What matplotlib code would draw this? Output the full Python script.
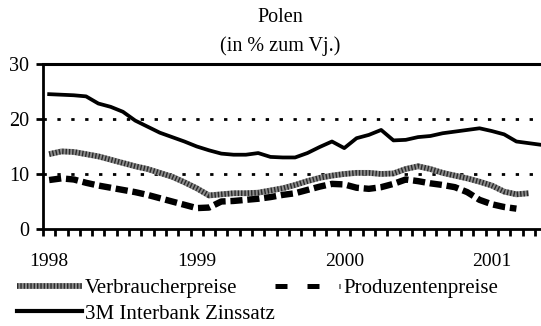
import matplotlib
matplotlib.use("Agg")
import matplotlib.pyplot as plt
from matplotlib.legend_handler import HandlerTuple
from matplotlib.lines import Line2D
from matplotlib.ticker import FixedLocator, NullFormatter

# monthly series from Jan 1998 (% y/y)
years = ["1998", "1999", "2000", "2001"]
verbraucher = [13.6, 14.1, 14.0, 13.6, 13.2, 12.6, 12.0, 11.4, 10.9, 10.2,
               9.5, 8.5, 7.4, 6.1, 6.3, 6.5, 6.5, 6.6, 7.0, 7.4,
               8.0, 8.7, 9.3, 9.7, 10.0, 10.2, 10.2, 10.0, 10.1, 10.9,
               11.4, 10.9, 10.2, 9.7, 9.2, 8.6, 7.9, 6.8, 6.3, 6.5]
produzenten = [8.9, 9.2, 9.0, 8.4, 7.9, 7.5, 7.1, 6.7, 6.2, 5.6,
               5.0, 4.4, 3.8, 3.9, 5.0, 5.1, 5.3, 5.5, 5.8, 6.2,
               6.5, 7.1, 7.7, 8.2, 8.1, 7.5, 7.3, 7.6, 8.2, 9.0,
               8.7, 8.3, 8.0, 7.6, 6.7, 5.3, 4.5, 4.0, 3.7]
zinssatz = [24.5, 24.4, 24.3, 24.1, 22.8, 22.2, 21.3, 19.7, 18.6, 17.5,
            16.7, 15.9, 15.0, 14.3, 13.7, 13.5, 13.5, 13.8, 13.1, 13.0,
            13.0, 13.8, 14.9, 15.9, 14.7, 16.5, 17.1, 18.0, 16.1, 16.2,
            16.7, 16.9, 17.4, 17.7, 18.0, 18.3, 17.8, 17.2, 15.9, 15.6,
            15.3]

plt.rcParams["font.family"] = ["Liberation Serif", "DejaVu Serif"]

fig = plt.figure(figsize=(5.41, 3.26), dpi=100)
ax = fig.add_axes([0.0795, 0.2975, 0.9205, 0.5065])

n = len(zinssatz)

# dotted grid at 10 and 20, solid line across the top at 30
for y in (10, 20):
    ax.axhline(y, color="black", lw=2.0, ls=(0, (1.2, 3.8)), zorder=1)
ax.axhline(30, color="black", lw=2.2, zorder=1, clip_on=False)

# textured consumer price line: grey band with dark hatching on top
cpi_bg, = ax.plot(range(len(verbraucher)), verbraucher, color="#8c8c8c",
                  lw=4.2, solid_capstyle="butt", zorder=3)
cpi_fg, = ax.plot(range(len(verbraucher)), verbraucher, color="#2a2a2a",
                  lw=4.0, ls=(0, (0.25, 0.35)), zorder=4)
ax.plot(range(len(produzenten)), produzenten, color="black", lw=4.6,
        ls=(0, (1.9, 0.75)), zorder=3)
ax.plot(range(n), zinssatz, color="black", lw=2.7, zorder=3)

ax.set_xlim(-0.5, 40.0)
ax.set_ylim(0, 30)
ax.set_yticks([0, 10, 20, 30])

ax.xaxis.set_major_locator(FixedLocator([0, 12, 24, 36]))
ax.set_xticklabels(years)
ax.xaxis.set_minor_locator(FixedLocator([i - 0.5 for i in range(n + 1)]))
ax.xaxis.set_minor_formatter(NullFormatter())
ax.tick_params(axis="x", which="major", length=0, pad=17, labelsize=14)
ax.tick_params(axis="x", which="minor", length=5, width=2, direction="out")
ax.tick_params(axis="y", length=5, width=2, direction="out", pad=5,
               labelsize=14.5)

for side in ("top", "right"):
    ax.spines[side].set_visible(False)
ax.spines["left"].set_linewidth(2)
ax.spines["bottom"].set_linewidth(2)

fig.text(0.518, 0.975, "Polen", ha="center", va="top", fontsize=14.5)
fig.text(0.518, 0.890, "(in % zum Vj.)", ha="center", va="top", fontsize=14.5)

# legend handles
zins_h = Line2D([], [], color="black", lw=3.0)
ppi_h = Line2D([], [], color="black", lw=3.6, ls=(0, (2.4, 4.0)))

leg_kw = dict(frameon=False, fontsize=15, handlelength=3.1,
              handletextpad=0.15, labelspacing=0.28, borderaxespad=0,
              borderpad=0.1, loc="upper left")
fig.legend([(cpi_bg, cpi_fg), zins_h],
           ["Verbraucherpreise", "3M Interbank Zinssatz"],
           handler_map={tuple: HandlerTuple(ndivide=1)},
           bbox_to_anchor=(0.028, 0.152), **leg_kw)
fig.legend([ppi_h], ["Produzentenpreise"],
           bbox_to_anchor=(0.505, 0.152), **leg_kw)

fig.savefig("out.png", dpi=100)
